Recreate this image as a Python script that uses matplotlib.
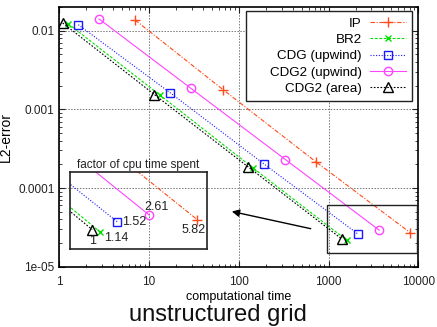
import numpy as np
import matplotlib
matplotlib.use('Agg')
import matplotlib.pyplot as plt
from matplotlib.ticker import FixedLocator, FixedFormatter, LogLocator, NullFormatter
from matplotlib.patches import Rectangle

plt.rcParams['font.family'] = ['Liberation Sans', 'DejaVu Sans']

# computational time / L2-error per scheme
ip_t = [6.98, 67.3, 721, 8183]
ip_e = [0.01368, 0.001766, 2.16e-4, 2.69e-5]
br2_t = [1.25, 13.1, 144, 1603]
br2_e = [0.0123, 0.00153, 1.80e-4, 2.16e-5]
cdg_t = [1.63, 17.3, 191, 2138]
cdg_e = [0.0119, 0.001615, 2.02e-4, 2.59e-5]
cdg2u_t = [2.77, 29.2, 331, 3670]
cdg2u_e = [0.0141, 0.001853, 2.30e-4, 2.91e-5]
cdg2a_t = [1.09, 11.5, 126, 1406]
cdg2a_e = [0.01254, 0.001538, 1.87e-4, 2.25e-5]

factor_labels = ['1', '1.14', '1.52', '2.61', '5.82']

xticks = [1, 10, 100, 1000, 10000]
xticklabels = ['1', '10', '100', '1000', '10000']
yticks = [1e-5, 1e-4, 1e-3, 1e-2]
yticklabels = ['1e-05', '0.0001', '0.001', '0.01']

W, H = 437, 327
fig = plt.figure(figsize=(W / 100, H / 100), dpi=100)
ax = fig.add_axes([59.3 / W, 1 - 266.7 / H, (418.3 - 59.3) / W, (266.7 - 7) / H])

series = [
    ('IP', ip_t, ip_e, dict(color='#ff4a1a', ls=(0, (4, 1.5, 1, 1.5)), marker='+', ms=6.5, mew=1.0)),
    ('BR2', br2_t, br2_e, dict(color='#00e000', ls=(0, (2.5, 1.5)), marker='x', ms=5, mew=1.0)),
    ('CDG (upwind)', cdg_t, cdg_e, dict(color='#1a1aff', ls=(0, (1, 1.5)), marker='s', ms=5.5, mew=1.0, mfc='none')),
    ('CDG2 (upwind)', cdg2u_t, cdg2u_e, dict(color='#ff44ff', ls='-', marker='o', ms=6, mew=1.0, mfc='none')),
    ('CDG2 (area)', cdg2a_t, cdg2a_e, dict(color='black', ls=(0, (1.5, 1.5)), marker='^', ms=6.5, mew=1.0, mfc='none')),
]

for name, t, e, st in series:
    ax.plot(t, e, lw=0.8, label=name, **st)

ax.set_xscale('log')
ax.set_yscale('log')
ax.set_xlim(1, 10000)
ax.set_ylim(1e-5, 0.02)
ax.xaxis.set_major_locator(FixedLocator(xticks))
ax.xaxis.set_major_formatter(FixedFormatter(xticklabels))
ax.yaxis.set_major_locator(FixedLocator(yticks))
ax.yaxis.set_major_formatter(FixedFormatter(yticklabels))
ax.xaxis.set_minor_locator(LogLocator(base=10, subs=np.arange(2, 10)))
ax.yaxis.set_minor_locator(LogLocator(base=10, subs=np.arange(2, 10)))
ax.xaxis.set_minor_formatter(NullFormatter())
ax.yaxis.set_minor_formatter(NullFormatter())
ax.tick_params(which='both', direction='in', top=True, right=True, labelsize=8.5, colors='#222222')
ax.tick_params(which='major', length=4.5, width=0.8)
ax.tick_params(which='minor', length=2.5, width=0.6)
ax.tick_params(axis='x', pad=7)
for s in ax.spines.values():
    s.set_linewidth(1.2)
ax.grid(True, which='major', color='#777777', ls=(0, (1.5, 1.5)), lw=0.7)
ax.set_axisbelow(True)

ax.set_xlabel('computational time', fontsize=9, labelpad=0)
ax.xaxis.set_label_coords(0.5, -0.095)
ax.set_ylabel('L2-error', fontsize=10)
ax.yaxis.set_label_coords(-0.13, 0.5)

# legend box drawn separately (gnuplot style has extra space on the left)
ax.add_patch(Rectangle((246 / W, 1 - 100.7 / H), 165.7 / W, 90 / H, transform=fig.transFigure,
                       fc='white', ec='#222222', lw=1.0, zorder=4.9, clip_on=False))
leg = ax.legend(loc='upper right', bbox_to_anchor=(411.7 / W, 1 - 11.5 / H), bbox_transform=fig.transFigure,
                borderaxespad=0, markerfirst=False, frameon=False,
                fontsize=9.6, handlelength=2.7, labelspacing=0.3, borderpad=0.45, handletextpad=0.6)

# box around the finest-grid points
ax.add_patch(Rectangle((970, 1.51e-5), 9650 - 970, 6.04e-5 - 1.51e-5, fill=False, ec='#222222', lw=1.0, zorder=5))
ax.annotate('', xy=(78, 5.12e-5), xytext=(679, 2.99e-5),
            arrowprops=dict(arrowstyle='-|>', color='black', lw=1.0, mutation_scale=11))

# inset: zoom on the last points
ins = fig.add_axes([70 / W, 1 - 249.3 / H, 137 / W, 77.3 / H])
ins.set_facecolor('none')
for name, t, e, st in series:
    ins.plot(t, e, lw=0.8, **st)
ins.set_xscale('log')
ins.set_yscale('log')
ins.set_xlim(970, 9650)
ins.set_ylim(1.58e-5, 6.3e-5)
ins.set_xticks([])
ins.set_yticks([])
ins.minorticks_off()
for s in ins.spines.values():
    s.set_linewidth(1.2)
    s.set_color('#222222')

last = [(cdg2a_t[-1], cdg2a_e[-1]), (br2_t[-1], br2_e[-1]), (cdg_t[-1], cdg_e[-1]),
        (cdg2u_t[-1], cdg2u_e[-1]), (ip_t[-1], ip_e[-1])]
offsets = [(0, -11), (16, -6), (5, 0), (7, 8.5), (-4, -10)]
aligns = ['center', 'center', 'left', 'center', 'center']
for (x, y), lab, off, ha in zip(last, factor_labels, offsets, aligns):
    ins.annotate(lab, xy=(x, y), xytext=off, textcoords='offset pixels', ha=ha, va='center',
                 fontsize=9, color='#222222')

fig.text(138.3 / W, 1 - 164.7 / H, 'factor of cpu time spent', ha='center', va='center', fontsize=8.5, color='#222222')
fig.text(217.5 / W, 1 - 315 / H, 'unstructured grid', ha='center', va='center', fontsize=17, color='#111111')

fig.savefig('out.png', dpi=100)
